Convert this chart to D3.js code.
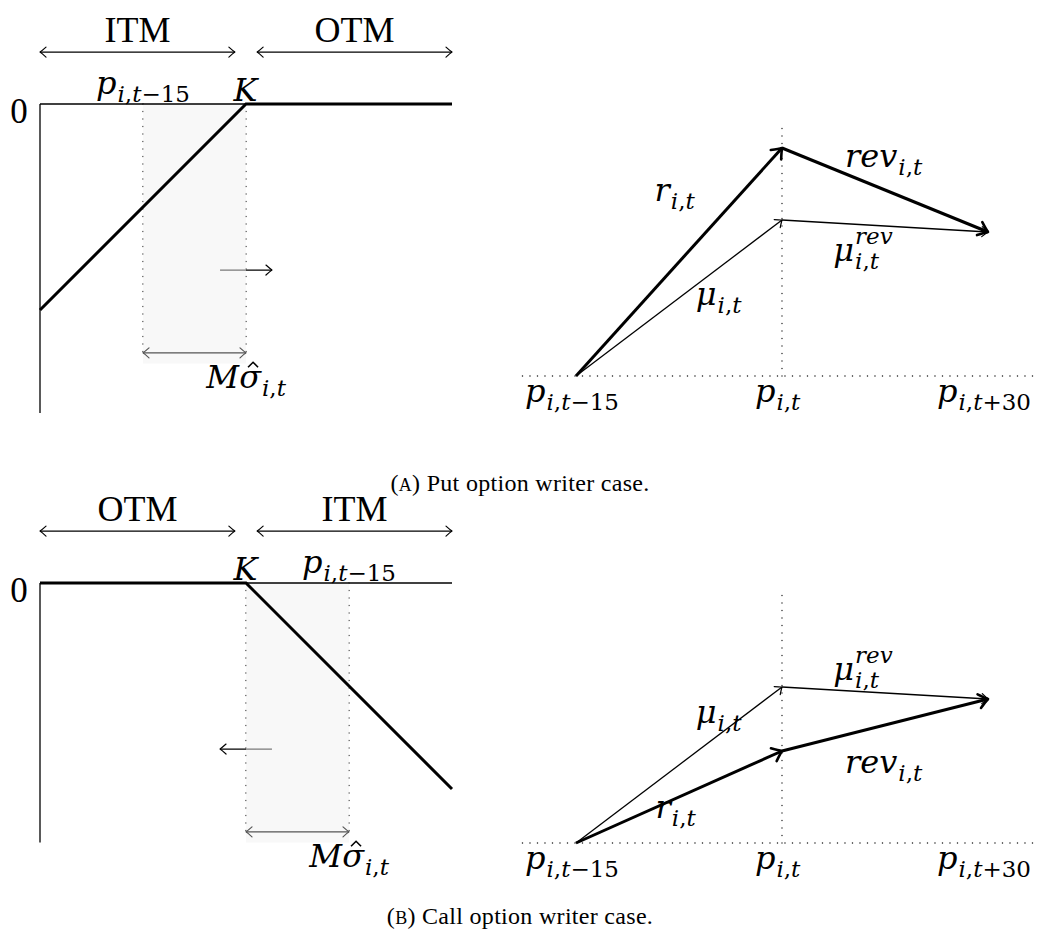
<!DOCTYPE html>
<html>
<head>
<meta charset="utf-8">
<script src="https://cdn.jsdelivr.net/npm/d3@7"></script>
<style>
  body { margin: 0; background: #fff; }
  text { font-family: "Liberation Serif", serif; fill: #000; }
  text.math { font-family: "DejaVu Serif", serif; }
</style>
</head>
<body>
<svg></svg>
<script>
const width = 1041;
const height = 940;

// ---- data ----
const panelLetters = ['A', 'B'];
const captions = ['Put option writer case.', 'Call option writer case.'];
const moneyness = [['ITM', 'OTM'], ['OTM', 'ITM']];
const strike = 5;                      // K on a 0..10 price axis
const pastPrice = [2.5, 7.5];          // p_{i,t-15}, put case / call case
const putPayoff = [[0, -5], [5, 0], [10, 0]];
const callPayoff = [[0, 0], [5, 0], [10, -5]];
const payoffs = [putPayoff, callPayoff];
const drift = [1, -1];                 // direction of the small arrow at K

const dayLabels = ['t−15', 't', 't+30'];
const realizedPut = [0, 22.8, 14.4];
const expectedPut = [0, 15.6, 14.4];
const realizedCall = [0, 9.2, 14.4];
const expectedCall = [0, 15.6, 14.4];
const realized = [realizedPut, realizedCall];
const expected = [expectedPut, expectedCall];
const realizedNames = [['r', null], ['rev', null]];
const expectedNames = [['μ', null], ['μ', 'rev']];

// ---- layout ----
const payoffTop = [104, 583];
const axisBottom = [-7.5, -6.3];
const shadeBottom = -6.3;
const pathBase = [376, 843];
const captionY = [491, 924];
// label offsets from segment midpoints [dx, dy], per panel: r, rev, mu, mu^rev
const segLabelOff = [
  [[-4, -61], [-1, -23], [40, 7], [-22, 35]],
  [[-3, 21], [-1, 48], [40, -42], [-22, -13]]
];

const svg = d3.select('svg').attr('width', width).attr('height', height);
const defs = svg.append('defs');

function marker(id, len, half, sw, color) {
  defs.append('marker')
    .attr('id', id)
    .attr('markerUnits', 'userSpaceOnUse')
    .attr('viewBox', `${-len - 3} ${-half - 3} ${len + 6} ${2 * half + 6}`)
    .attr('markerWidth', len + 6)
    .attr('markerHeight', 2 * half + 6)
    .attr('refX', 0).attr('refY', 0)
    .attr('orient', 'auto-start-reverse')
    .append('path')
    .attr('d', `M${-len},${-half} Q${-len * 0.3},${-half * 0.25} 0,0 Q${-len * 0.3},${half * 0.25} ${-len},${half}`)
    .attr('fill', 'none')
    .attr('stroke', color)
    .attr('stroke-width', sw)
    .attr('stroke-linecap', 'round')
    .attr('stroke-linejoin', 'round');
}
marker('thin', 6, 5, 1.2, '#000');
marker('gray', 6, 5, 1.2, '#555');
marker('thick', 9, 7, 2.6, '#000');

// letters in italic, digits and signs upright (math style)
function addRuns(text, str) {
  const runs = [];
  for (const ch of str) {
    const it = /\p{L}/u.test(ch);
    if (runs.length && runs[runs.length - 1].it === it) runs[runs.length - 1].s += ch;
    else runs.push({ s: ch, it });
  }
  runs.forEach(r => text.append('tspan')
    .attr('font-style', r.it ? 'italic' : 'normal')
    .text(r.s));
}

// base with optional sub/superscript; hatAt = index of a char to put a hat on
function mathLabel(parent, x, y, base, sub, sup, hatAt) {
  const node = parent.append('g');
  const t = node.append('text').attr('class', 'math').attr('font-size', 32);
  addRuns(t, base);
  const w = t.node().getComputedTextLength();
  if (hatAt != null) {
    const n = t.node();
    const x0 = n.getSubStringLength(0, hatAt);
    const x1 = n.getSubStringLength(0, hatAt + 1);
    const cx = (x0 + x1) / 2 + 3;
    node.append('path')
      .attr('d', `M${cx - 5},-21 L${cx},-26 L${cx + 5},-21`)
      .attr('fill', 'none').attr('stroke', '#000').attr('stroke-width', 1.6)
      .attr('stroke-linejoin', 'miter');
  }
  if (sub) {
    const s = node.append('text').attr('class', 'math')
      .attr('x', w + 1).attr('y', 8).attr('font-size', 23);
    addRuns(s, sub);
  }
  if (sup) {
    const s = node.append('text').attr('class', 'math')
      .attr('x', w + 1).attr('y', -17).attr('font-size', 23);
    addRuns(s, sup);
  }
  const bb = node.node().getBBox();
  node.attr('transform', `translate(${x - (bb.x + bb.width / 2)},${y})`);
}

function dotted(sel) {
  return sel.attr('stroke', '#222').attr('stroke-width', 1.4)
    .attr('stroke-dasharray', '0.1 7.4').attr('stroke-linecap', 'round');
}

// ---- left: payoff diagrams ----
function drawPayoff(i) {
  const x = d3.scaleLinear().domain([0, 10]).range([40, 452]);
  const y = d3.scaleLinear().domain([0, -1]).range([payoffTop[i], payoffTop[i] + 41.2]);
  const g = svg.append('g');
  const p = pastPrice[i];
  const lo = Math.min(p, strike), hi = Math.max(p, strike);

  // moneyness ranges
  const ranges = [[0, 4.73], [5.27, 10]];
  ranges.forEach((r, k) => {
    g.append('line')
      .attr('x1', x(r[0])).attr('x2', x(r[1]))
      .attr('y1', y(1.26)).attr('y2', y(1.26))
      .attr('stroke', '#000').attr('stroke-width', 1.1)
      .attr('marker-start', 'url(#thin)').attr('marker-end', 'url(#thin)');
    g.append('text')
      .attr('x', (x(r[0]) + x(r[1])) / 2).attr('y', y(1.5))
      .attr('text-anchor', 'middle').attr('font-size', 36)
      .text(moneyness[i][k]);
  });

  // small arrow across K
  const a = [strike - 0.63 * drift[i], strike + 0.63 * drift[i]];
  g.append('line')
    .attr('x1', x(a[0])).attr('x2', x(a[1]))
    .attr('y1', y(-4.03)).attr('y2', y(-4.03))
    .attr('stroke', '#000').attr('stroke-width', 1.2)
    .attr('marker-end', 'url(#thin)');

  // dotted edges of the band
  [lo, hi].forEach(v => {
    g.append('line')
      .attr('x1', x(v)).attr('x2', x(v))
      .attr('y1', y(0)).attr('y2', y(-6.1))
      .call(dotted);
  });

  // shaded band
  g.append('rect')
    .attr('x', x(lo)).attr('y', y(0))
    .attr('width', x(hi) - x(lo)).attr('height', y(shadeBottom) - y(0))
    .attr('fill', '#f2f2f2').attr('fill-opacity', 0.5);

  // M sigma width
  g.append('line')
    .attr('x1', x(lo)).attr('x2', x(hi))
    .attr('y1', y(-6.04)).attr('y2', y(-6.04))
    .attr('stroke', '#555').attr('stroke-width', 1.1)
    .attr('marker-start', 'url(#gray)').attr('marker-end', 'url(#gray)');

  // axes
  g.append('line')
    .attr('x1', x(0)).attr('x2', x(10)).attr('y1', y(0)).attr('y2', y(0))
    .attr('stroke', '#000').attr('stroke-width', 1.3);
  g.append('line')
    .attr('x1', x(0)).attr('x2', x(0)).attr('y1', y(0)).attr('y2', y(axisBottom[i]))
    .attr('stroke', '#000').attr('stroke-width', 1.3);

  // payoff
  g.append('path')
    .attr('d', d3.line().x(d => x(d[0])).y(d => y(d[1]))(payoffs[i]))
    .attr('fill', 'none').attr('stroke', '#000').attr('stroke-width', 3)
    .attr('stroke-linejoin', 'miter');

  // labels
  g.append('text').attr('x', 19).attr('y', y(0) + 19)
    .attr('text-anchor', 'middle').attr('font-size', 35).text('0');
  mathLabel(g, x(strike), y(0) - 3, 'K', null, null);
  mathLabel(g, x(p), y(0) - 10, 'p', 'i,t−15', null);
  mathLabel(g, x(hi), y(-6.9), 'Mσ', 'i,t', null, 1);
}

// ---- right: return paths ----
function drawPaths(i) {
  const x = d3.scaleLinear().domain([0, 2]).range([576, 988]);
  const y = d3.scaleLinear().domain([0, 10]).range([pathBase[i], pathBase[i] - 100]);
  const g = svg.append('g');

  g.append('line')
    .attr('x1', x(-0.26)).attr('x2', x(2.25)).attr('y1', y(0)).attr('y2', y(0))
    .call(dotted);
  g.append('line')
    .attr('x1', x(1)).attr('x2', x(1)).attr('y1', y(0)).attr('y2', y(25.4))
    .call(dotted);

  const series = [
    { v: expected[i], names: expectedNames, w: 1.3, m: 'thin', off: [2, 3] },
    { v: realized[i], names: realizedNames, w: 3, m: 'thick', off: [0, 1] }
  ];
  series.forEach(s => {
    for (let k = 0; k < 2; k++) {
      g.append('line')
        .attr('x1', x(k)).attr('y1', y(s.v[k]))
        .attr('x2', x(k + 1)).attr('y2', y(s.v[k + 1]))
        .attr('stroke', '#000').attr('stroke-width', s.w)
        .attr('marker-end', `url(#${s.m})`);
    }
  });
  series.forEach(s => {
    for (let k = 0; k < 2; k++) {
      const mx = (x(k) + x(k + 1)) / 2, my = (y(s.v[k]) + y(s.v[k + 1])) / 2;
      const o = segLabelOff[i][s.off[k]];
      mathLabel(g, mx + o[0], my + o[1], s.names[k][0], 'i,t', s.names[k][1]);
    }
  });

  dayLabels.forEach((d, k) => mathLabel(g, x(k) - 4, y(0) + 26, 'p', 'i,' + d, null));
}

[0, 1].forEach(i => {
  drawPayoff(i);
  drawPaths(i);
  const c = svg.append('text')
    .attr('x', 520).attr('y', captionY[i])
    .attr('text-anchor', 'middle').attr('font-size', 24)
    .attr('letter-spacing', 0.3);
  c.append('tspan').text('(');
  c.append('tspan').attr('font-size', 18).text(panelLetters[i]);
  c.append('tspan').text(') ' + captions[i]);
});
</script>
</body>
</html>
